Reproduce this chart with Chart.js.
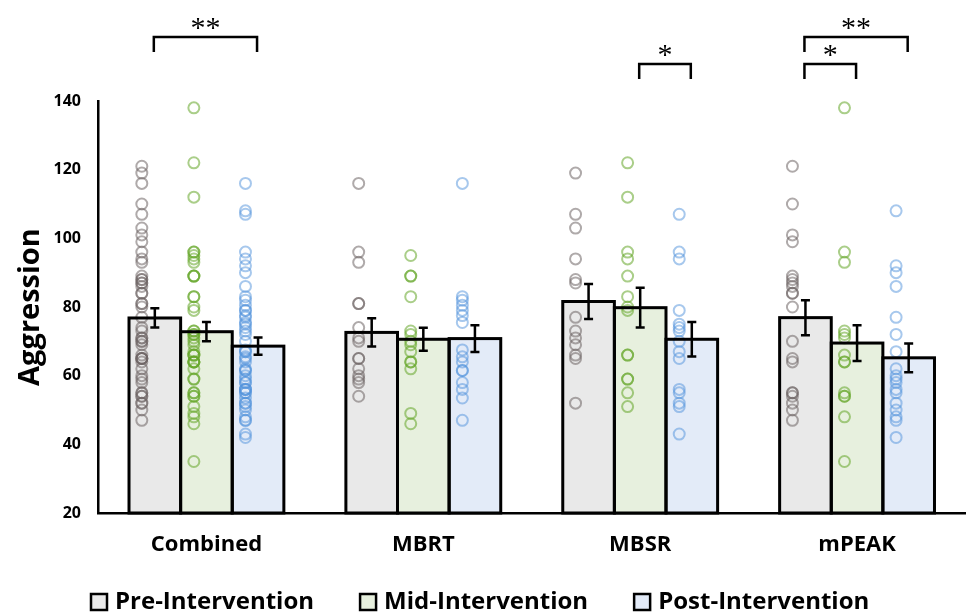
<!DOCTYPE html>
<html>
<head>
<meta charset="utf-8">
<script src="https://cdn.jsdelivr.net/npm/chart.js@4.4.1/dist/chart.umd.min.js"></script>
<style>
    html, body { margin: 0; padding: 0; background: #fff; }
    #wrap { width: 973px; height: 613px; }
</style>
</head>
<body>
<div id="wrap"><canvas id="aggressionChart" width="973" height="613"></canvas></div>
<script>
// Categories and series
const groups = ['Combined', 'MBRT', 'MBSR', 'mPEAK'];
const phases = ['Pre-Intervention', 'Mid-Intervention', 'Post-Intervention'];

// Bar means and standard errors, one value per group
const preMeans = [76.8, 72.6, 81.6, 76.9];
const midMeans = [72.8, 70.6, 79.8, 69.5];
const postMeans = [68.6, 70.8, 70.6, 65.2];
const preErr = [2.8, 4.1, 5.1, 5.1];
const midErr = [2.8, 3.35, 5.8, 5.2];
const postErr = [2.5, 3.9, 5.05, 4.2];

// Individual scores per program
const mbrtPre = [116, 96, 93, 81, 81, 74, 71, 70, 65, 65, 62, 60, 59, 58, 54];
const mbrtMid = [95, 89, 89, 83, 73, 72, 70, 69, 67, 64, 64, 62, 49, 46];
const mbrtPost = [116, 83, 82, 80.5, 79, 77.5, 75.5, 67.5, 65.5, 64, 61.5, 61.5, 58, 56, 53.5, 47];
const mbsrPre = [119, 107, 103, 94, 88, 87, 77, 73, 71, 69, 66, 65, 52];
const mbsrMid = [122, 112, 96, 94, 89, 83, 80, 79, 66, 66, 59, 59, 55, 51];
const mbsrPost = [107, 96, 94, 79, 75, 74, 73, 70, 67, 65, 56, 55, 52, 51, 43];
const mpeakPre = [121, 110, 101, 99, 89, 88, 87, 86, 84, 84, 80, 70, 65, 64, 55, 55, 54, 52, 50, 47];
const mpeakMid = [138, 96, 93, 73, 72, 71, 66, 64, 64, 55, 54, 54, 48, 35];
const mpeakPost = [108, 92, 90, 86, 77, 72, 67, 62, 60, 59, 58, 56, 55, 52, 50, 48, 47, 42];

// Combined group holds every participant
const combinedPre = mbrtPre.concat(mbsrPre, mpeakPre);
const combinedMid = mbrtMid.concat(mbsrMid, mpeakMid);
const combinedPost = mbrtPost.concat(mbsrPost, mpeakPost);

const scores = [
    [combinedPre, mbrtPre, mbsrPre, mpeakPre],
    [combinedMid, mbrtMid, mbsrMid, mpeakMid],
    [combinedPost, mbrtPost, mbsrPost, mpeakPost]
];

// Significance marks: group, first phase, second phase, label
const comparisons = [
    { group: 0, from: 0, to: 2, label: '**', level: 2 },
    { group: 2, from: 1, to: 2, label: '*', level: 1 },
    { group: 3, from: 0, to: 2, label: '**', level: 2 },
    { group: 3, from: 0, to: 1, label: '*', level: 1 }
];

const means = [preMeans, midMeans, postMeans];
const errors = [preErr, midErr, postErr];
const barFills = ['#e9e9e9', '#e7f0de', '#e3ebf8'];
const dotColors = ['rgba(110, 100, 100, 0.55)', 'rgba(100, 165, 40, 0.55)', 'rgba(80, 145, 220, 0.5)'];
const phaseShift = [-0.298, -0.058, 0.18];

let datasets = [];
phases.forEach((p, k) => {
    datasets.push({
        type: 'bar',
        label: p,
        data: means[k].map((m, i) => ({ x: i, y: m })),
        backgroundColor: barFills[k],
        borderWidth: 0,
        categoryPercentage: 0.714,
        barPercentage: 1.0,
        order: 2
    });
});
phases.forEach((p, k) => {
    groups.forEach((g, i) => {
        datasets.push({
            type: 'scatter',
            label: p + ' ' + g,
            data: scores[k][i].map(v => ({ x: i + phaseShift[k], y: v })),
            borderColor: dotColors[k],
            backgroundColor: 'rgba(0,0,0,0)',
            pointRadius: 5.5,
            borderWidth: 2,
            order: 1
        });
    });
});

// Outlines and error bars on top of the bars
const errorBars = {
    id: 'errorBars',
    afterDatasetsDraw(chart) {
        const ctx = chart.ctx;
        const y = chart.scales.y;
        const bottom = chart.chartArea.bottom;
        ctx.save();
        ctx.strokeStyle = '#000';
        phases.forEach((p, k) => {
            chart.getDatasetMeta(k).data.forEach((bar, i) => {
                const base = Math.min(bar.base, bottom);
                ctx.lineWidth = 3;
                ctx.strokeRect(bar.x - bar.width / 2, bar.y, bar.width, base - bar.y);
                const hi = y.getPixelForValue(means[k][i] + errors[k][i]);
                const lo = y.getPixelForValue(means[k][i] - errors[k][i]);
                ctx.lineWidth = 2.5;
                ctx.beginPath();
                ctx.moveTo(bar.x, hi);
                ctx.lineTo(bar.x, lo);
                ctx.moveTo(bar.x - 4.5, hi);
                ctx.lineTo(bar.x + 4.5, hi);
                ctx.moveTo(bar.x - 4.5, lo);
                ctx.lineTo(bar.x + 4.5, lo);
                ctx.stroke();
            });
        });
        ctx.restore();
    }
};

// Brackets with stars above the plot
const brackets = {
    id: 'brackets',
    afterDraw(chart) {
        const ctx = chart.ctx;
        ctx.save();
        ctx.strokeStyle = '#000';
        ctx.fillStyle = '#000';
        ctx.lineWidth = 2.5;
        ctx.font = '30px "Liberation Serif"';
        ctx.textAlign = 'center';
        ctx.textBaseline = 'alphabetic';
        comparisons.forEach(c => {
            const a = chart.getDatasetMeta(c.from).data[c.group];
            const b = chart.getDatasetMeta(c.to).data[c.group];
            const top = chart.chartArea.top - (c.level === 2 ? 64 : 37);
            const x1 = a.x - 1;
            const x2 = b.x - 1;
            ctx.beginPath();
            ctx.moveTo(x1, top + 15);
            ctx.lineTo(x1, top);
            ctx.lineTo(x2, top);
            ctx.lineTo(x2, top + 15);
            ctx.stroke();
            ctx.fillText(c.label, (x1 + x2) / 2, top);
        });
        ctx.restore();
    }
};

// Legend along the bottom
const legendRow = {
    id: 'legendRow',
    afterDraw(chart) {
        const ctx = chart.ctx;
        let x = 91;
        ctx.save();
        ctx.font = 'bold 24px "Open Sans"';
        ctx.textBaseline = 'alphabetic';
        phases.forEach((p, k) => {
            ctx.fillStyle = barFills[k];
            ctx.fillRect(x, 594, 16, 16);
            ctx.lineWidth = 2.5;
            ctx.strokeStyle = '#000';
            ctx.strokeRect(x, 594, 16, 16);
            ctx.fillStyle = '#000';
            ctx.fillText(p, x + 24, 609);
            x += 24 + ctx.measureText(p).width + 46;
        });
        ctx.restore();
    }
};

let ctx = document.getElementById('aggressionChart').getContext('2d');
let aggressionChart = new Chart(ctx, {
    type: 'bar',
    data: { datasets: datasets },
    plugins: [errorBars, brackets, legendRow],
    options: {
        responsive: false,
        animation: false,
        layout: { padding: { top: 101, right: 1, bottom: 0, left: 0 } },
        plugins: {
            legend: { display: false },
            tooltip: { enabled: false }
        },
        scales: {
            x: {
                type: 'linear',
                min: -0.5,
                max: 3.5,
                offset: false,
                grid: { display: false, drawTicks: false, offset: false },
                border: { display: true, color: '#000', width: 2.5 },
                afterBuildTicks(scale) {
                    scale.ticks = groups.map((g, i) => ({ value: i }));
                },
                ticks: {
                    color: '#000',
                    padding: 19,
                    autoSkip: false,
                    maxRotation: 0,
                    callback: (v) => groups[v],
                    font: { family: 'Open Sans', size: 22, weight: 'bold' }
                },
                afterFit(scale) { scale.height = 100; }
            },
            y: {
                min: 20,
                max: 140,
                grid: { display: false, drawTicks: false },
                border: { display: true, color: '#000', width: 2.5 },
                ticks: {
                    stepSize: 20,
                    color: '#000',
                    padding: 17,
                    font: { family: 'Open Sans', size: 16, weight: 'bold' }
                },
                title: {
                    display: true,
                    text: 'Aggression',
                    color: '#000',
                    padding: { top: 13, bottom: 0 },
                    font: { family: 'Open Sans', size: 29, weight: 'bold' }
                },
                afterFit(scale) { scale.width = 98; }
            }
        }
    }
});
</script>
</body>
</html>
